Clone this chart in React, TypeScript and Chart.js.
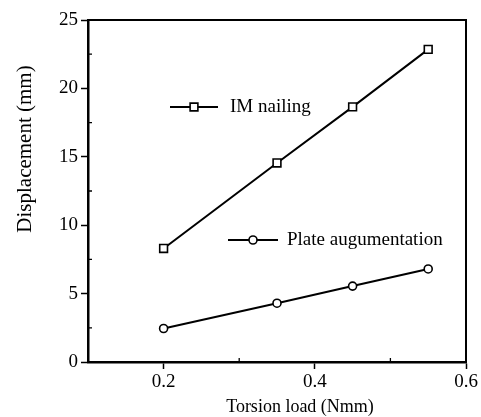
import React, { useEffect, useRef } from "react";
import { Chart, registerables } from "chart.js";

Chart.register(...registerables);

const torsionLoad = [0.2, 0.35, 0.45, 0.55];
const imNailing = [8.3, 14.55, 18.65, 22.85];
const plateAugmentation = [2.45, 4.3, 5.55, 6.8];
const xMajorTicks = [0.2, 0.4, 0.6];
const xMinorTicks = [0.3, 0.5];
const yMinorTicks = [2.5, 7.5, 12.5, 17.5, 22.5];

const FONT = "'Liberation Serif', 'Times New Roman', serif";

const framePlugin = {
  id: "frame",
  afterDraw(chart: any) {
    const { ctx, chartArea: a, scales } = chart;
    ctx.save();
    ctx.strokeStyle = "#000";
    // frame top/right
    ctx.lineWidth = 2;
    ctx.beginPath();
    ctx.moveTo(a.left, a.top);
    ctx.lineTo(a.right, a.top);
    ctx.lineTo(a.right, a.bottom);
    ctx.stroke();
    // minor ticks (inward)
    ctx.lineWidth = 1.3;
    ctx.beginPath();
    for (const v of yMinorTicks) {
      const y = scales.y.getPixelForValue(v);
      ctx.moveTo(a.left, y);
      ctx.lineTo(a.left + 4, y);
    }
    for (const v of xMinorTicks) {
      const x = scales.x.getPixelForValue(v);
      ctx.moveTo(x, a.bottom);
      ctx.lineTo(x, a.bottom - 4);
    }
    ctx.stroke();

    // axis titles
    ctx.fillStyle = "#000";
    ctx.textAlign = "center";
    ctx.textBaseline = "middle";
    ctx.font = `18px ${FONT}`;
    ctx.fillText("Torsion load (Nmm)", 300, 407);
    ctx.save();
    ctx.translate(25, 149);
    ctx.rotate(-Math.PI / 2);
    ctx.font = `21px ${FONT}`;
    ctx.fillText("Displacement (mm)", 0, 0);
    ctx.restore();

    // legend entries
    const entries = [
      { label: "IM nailing", style: "rect", r: 5.5, x0: 170, x1: 218, y: 107, tx: 230 },
      { label: "Plate augumentation", style: "circle", r: 4, x0: 228, x1: 278, y: 240, tx: 287 },
    ];
    for (const e of entries) {
      ctx.lineWidth = 2;
      ctx.beginPath();
      ctx.moveTo(e.x0, e.y);
      ctx.lineTo(e.x1, e.y);
      ctx.stroke();
      ctx.fillStyle = "#fff";
      ctx.lineWidth = 1.6;
      const cx = (e.x0 + e.x1) / 2;
      ctx.beginPath();
      if (e.style === "rect") {
        const s = e.r * Math.SQRT1_2;
        ctx.rect(cx - s, e.y - s, 2 * s, 2 * s);
      } else {
        ctx.arc(cx, e.y, e.r, 0, Math.PI * 2);
      }
      ctx.fill();
      ctx.stroke();
      ctx.fillStyle = "#000";
      ctx.textAlign = "left";
      ctx.textBaseline = "middle";
      ctx.font = `19px ${FONT}`;
      ctx.fillText(e.label, e.tx, e.y);
    }
    ctx.restore();
  },
};

export default function App() {
  const ref = useRef<HTMLCanvasElement>(null);
  useEffect(() => {
    if (!ref.current) return;
    const chart = new Chart(ref.current, {
      type: "line",
      data: {
        datasets: [
          {
            label: "IM nailing",
            data: torsionLoad.map((x, i) => ({ x, y: imNailing[i] })),
            borderColor: "#000",
            borderWidth: 2,
            pointStyle: "rect",
            pointRadius: 5.5,
            pointBackgroundColor: "#fff",
            pointBorderColor: "#000",
            pointBorderWidth: 1.6,
            tension: 0,
          },
          {
            label: "Plate augumentation",
            data: torsionLoad.map((x, i) => ({ x, y: plateAugmentation[i] })),
            borderColor: "#000",
            borderWidth: 2,
            pointStyle: "circle",
            pointRadius: 4,
            pointBackgroundColor: "#fff",
            pointBorderColor: "#000",
            pointBorderWidth: 1.6,
            tension: 0,
          },
        ],
      },
      options: {
        animation: false,
        responsive: true,
        maintainAspectRatio: false,
        layout: { padding: { top: 20, right: 15, left: 0, bottom: 0 } },
        plugins: { legend: { display: false }, tooltip: { enabled: false } },
        scales: {
          x: {
            type: "linear",
            min: 0.1,
            max: 0.6,
            afterBuildTicks: (s: any) => {
              s.ticks = xMajorTicks.map((v) => ({ value: v }));
            },
            afterFit: (s: any) => {
              s.height = 55;
            },
            ticks: {
              color: "#000",
              font: { family: FONT, size: 19 },
              padding: 2,
              maxRotation: 0,
              callback: (v: any) => Number(v).toFixed(1),
            },
            grid: { drawOnChartArea: false, drawTicks: true, tickLength: 7, tickColor: "#000", tickWidth: 1.5 },
            border: { display: true, color: "#000", width: 2.5 },
          },
          y: {
            type: "linear",
            min: 0,
            max: 25,
            afterFit: (s: any) => {
              s.width = 88;
            },
            ticks: {
              stepSize: 5,
              color: "#000",
              font: { family: FONT, size: 19 },
              padding: 3,
            },
            grid: { drawOnChartArea: false, drawTicks: true, tickLength: 7, tickColor: "#000", tickWidth: 1.5 },
            border: { display: true, color: "#000", width: 2.5 },
          },
        },
      },
      plugins: [framePlugin],
    });
    return () => chart.destroy();
  }, []);
  return (
    <div style={{ position: "absolute", left: 0, top: 0, width: 481, height: 417, background: "#fff" }}>
      <canvas ref={ref} />
    </div>
  );
}
